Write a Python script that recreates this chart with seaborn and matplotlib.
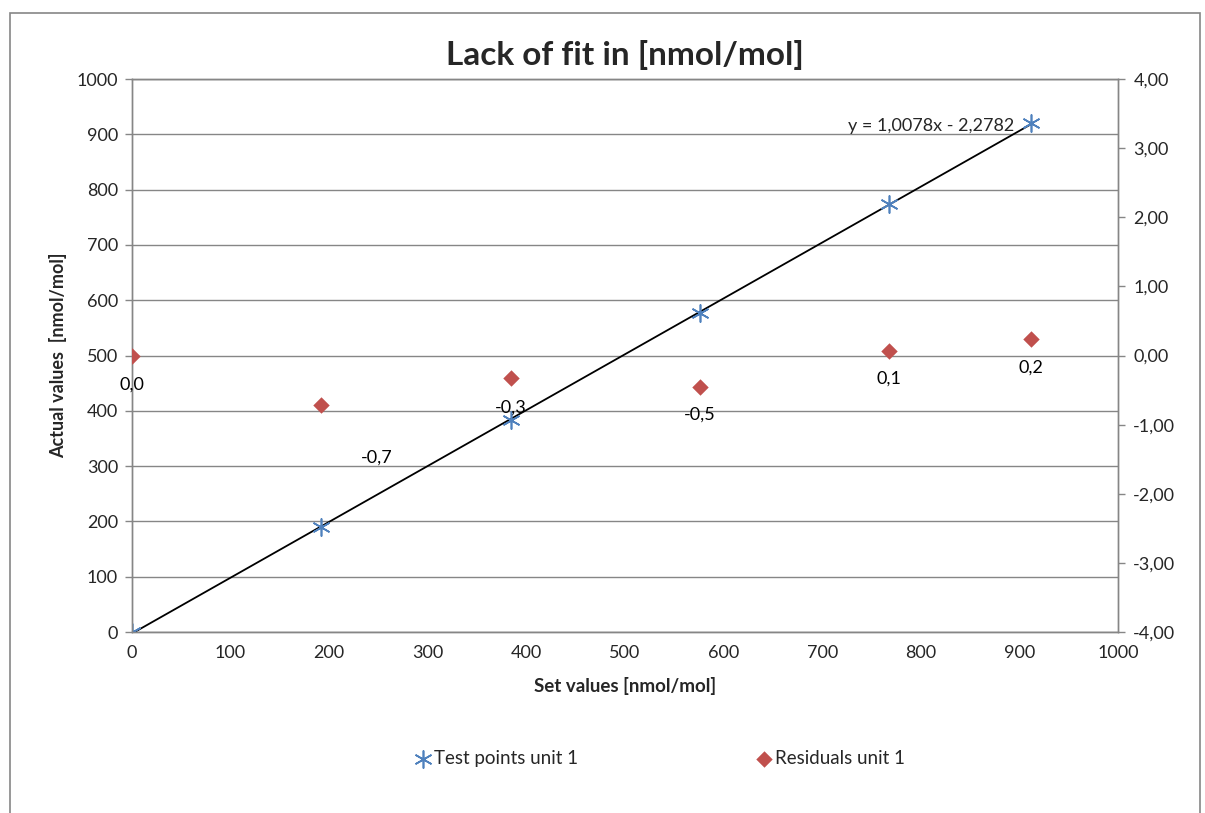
import numpy as np
import pandas as pd
import matplotlib.pyplot as plt
import matplotlib.patches as mpatches
from matplotlib.ticker import FuncFormatter
import seaborn as sns

# data
set_values = [0, 192, 384, 576, 768, 912]
actual_values = [0, 190, 383, 577, 774, 920]
residuals = [0.0, -0.72, -0.33, -0.45, 0.07, 0.24]
res_labels = ["0,0", "-0,7", "-0,3", "-0,5", "0,1", "0,2"]
# label offsets in pixels (Excel put -0,7 away from its point)
label_off = [(0, -29), (55, -52), (0, -29), (0, -28), (0, -28), (0, -29)]
equation = "y = 1,0078x - 2,2782"

df = pd.DataFrame({"set": set_values, "actual": actual_values, "res": residuals})

sns.set_style("white")
plt.rcParams['font.family'] = ['Lato', 'DejaVu Sans']

blue = "#4F81BD"
red = "#C0504D"
grey = "#868686"
fs = 13

fig = plt.figure(figsize=(12.05, 8.13), dpi=100)
ax = fig.add_axes([0.1095, 0.2226, 0.8183, 0.6802])
ax2 = ax.twinx()

# trend line + test points on left axis
sns.regplot(x="set", y="actual", data=df, ax=ax, scatter=False, ci=None,
            truncate=True, color="black", line_kws={"lw": 1.3})
sns.scatterplot(x="set", y="actual", data=df, ax=ax, marker=(6, 2, 0), s=150,
                color=blue, linewidth=1.2, edgecolor=blue, zorder=5,
                label="Test points unit 1", legend=False)

# residuals on right axis
sns.scatterplot(x="set", y="res", data=df, ax=ax2, marker="D", s=70,
                color=red, edgecolor=red, linewidth=0, zorder=5,
                label="Residuals unit 1", legend=False)

for x, r, lab, off in zip(set_values, residuals, res_labels, label_off):
    ax2.annotate(lab, (x, r), xytext=off, textcoords="offset pixels",
                 ha="center", va="center", fontsize=fs, color="black")

ax.text(810, 915, equation, ha="center", va="center", fontsize=fs)

ax.set_xlim(0, 1000)
ax.set_ylim(0, 1000)
ax2.set_ylim(-4, 4)
ax.set_xticks(np.arange(0, 1001, 100))
ax.set_yticks(np.arange(0, 1001, 100))
ax2.set_yticks(np.arange(-4, 4.01, 1))
ax2.yaxis.set_major_formatter(FuncFormatter(lambda v, p: f"{v:.2f}".replace(".", ",")))

ax.yaxis.grid(True, color=grey, lw=1)
ax.set_axisbelow(True)

for a in (ax, ax2):
    for s in a.spines.values():
        s.set_color(grey)
        s.set_linewidth(1)
    a.tick_params(axis="both", direction="out", length=5, color=grey,
                  labelsize=fs, width=1)
ax.tick_params(axis="y", pad=5)
ax2.tick_params(axis="y", pad=6)
ax.tick_params(axis="x", pad=4)

ax.set_xlabel("Set values [nmol/mol]", fontsize=13.5, fontweight="bold", labelpad=12)
ax.set_ylabel("Actual values  [nmol/mol]", fontsize=13, fontweight="bold", labelpad=7)
ax2.set_ylabel("")
ax.set_title("Lack of fit in [nmol/mol]", fontsize=24, fontweight="bold", pad=10)

h1, l1 = ax.get_legend_handles_labels()
h2, l2 = ax2.get_legend_handles_labels()
fig.legend(h1 + h2, l1 + l2, loc="center", bbox_to_anchor=(0.547, 0.067), ncol=2,
           frameon=False, fontsize=fs + 0.5, columnspacing=9.4, handletextpad=0.1,
           handlelength=1.0)

# outer chart border
fig.patches.append(mpatches.Rectangle((10 / 1205, -0.01), 1190 / 1205, 1.01 - 13 / 813,
                                      transform=fig.transFigure, fill=False,
                                      edgecolor=grey, lw=1.2))

fig.savefig("out.png", dpi=100)
